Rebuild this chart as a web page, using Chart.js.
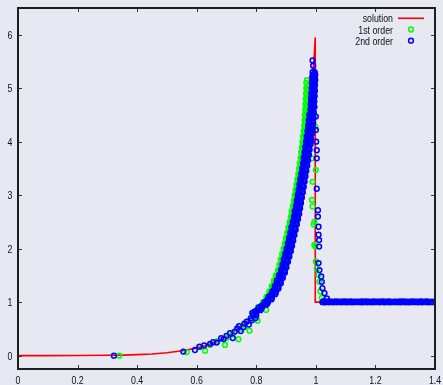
<!DOCTYPE html>
<html>
<head>
<meta charset="utf-8">
<script src="https://cdn.jsdelivr.net/npm/chart.js@4.4.1/dist/chart.umd.min.js"></script>
<style>
  html, body { margin: 0; padding: 0; background: #e8e8f2; }
  canvas { display: block; }
</style>
</head>
<body>
<canvas id="shockChart" width="443" height="385"></canvas>
<script>
// axis ticks
const xTicks = [0, 0.2, 0.4, 0.6, 0.8, 1, 1.2, 1.4];
const yTicks = [0, 1, 2, 3, 4, 5, 6];

// exact solution
const solutionX = [0, 0.1, 0.2, 0.3, 0.35, 0.4, 0.45, 0.5, 0.55, 0.6, 0.65, 0.7, 0.75, 0.8, 0.85, 0.88, 0.9, 0.92, 0.94, 0.96, 0.97, 0.98, 0.99, 0.995, 0.998, 0.998, 1.2, 1.4];
const solutionY = [0, 0.001, 0.002, 0.006, 0.01, 0.018, 0.03, 0.055, 0.09, 0.14, 0.22, 0.35, 0.55, 0.8, 1.18, 1.5, 1.8, 2.25, 2.85, 3.6, 4.1, 4.7, 5.3, 5.65, 5.95, 1.0, 1.0, 1.0];

// 1st order particles [x, y]
const firstLow = [
  [0.34, 0.0], [0.566, 0.065], [0.61, 0.16], [0.628, 0.09], [0.645, 0.2], [0.67, 0.27],
  [0.695, 0.2], [0.7, 0.33], [0.72, 0.4], [0.74, 0.306], [0.745, 0.5], [0.76, 0.56],
  [0.777, 0.467], [0.78, 0.68], [0.795, 0.77], [0.804, 0.654], [0.833, 0.854]
];
const firstBandA = [
  [0.786, 0.8], [0.806, 0.9], [0.823, 1.0], [0.834, 1.1], [0.844, 1.2], [0.852, 1.3], [0.859, 1.4],
  [0.866, 1.5], [0.873, 1.6], [0.878, 1.7], [0.882, 1.8], [0.887, 1.9], [0.892, 2.0], [0.896, 2.1],
  [0.9, 2.2], [0.904, 2.3], [0.908, 2.4], [0.912, 2.5], [0.916, 2.6], [0.919, 2.7], [0.923, 2.8],
  [0.926, 2.9], [0.929, 3.0], [0.932, 3.1], [0.935, 3.2], [0.938, 3.3], [0.941, 3.4], [0.944, 3.5],
  [0.946, 3.6], [0.949, 3.7], [0.951, 3.8], [0.953, 3.9], [0.955, 4.0], [0.957, 4.1], [0.959, 4.2],
  [0.961, 4.3], [0.962, 4.4], [0.963, 4.5], [0.964, 4.6], [0.965, 4.7], [0.966, 4.8], [0.967, 4.9],
  [0.968, 5.0], [0.968, 5.1], [0.97, 5.15]
];
const firstBandB = [
  [0.804, 0.85], [0.822, 0.95], [0.837, 1.05], [0.847, 1.15], [0.856, 1.25], [0.864, 1.35], [0.871, 1.45],
  [0.878, 1.55], [0.883, 1.65], [0.888, 1.75], [0.893, 1.85], [0.898, 1.95], [0.902, 2.05], [0.906, 2.15],
  [0.91, 2.25], [0.914, 2.35], [0.918, 2.45], [0.922, 2.55], [0.926, 2.65], [0.929, 2.75], [0.932, 2.85],
  [0.935, 2.95], [0.938, 3.05], [0.941, 3.15], [0.944, 3.25], [0.947, 3.35], [0.95, 3.45], [0.953, 3.55],
  [0.956, 3.65], [0.958, 3.75], [0.96, 3.85], [0.962, 3.95], [0.964, 4.05], [0.966, 4.15], [0.968, 4.25],
  [0.969, 4.35], [0.971, 4.45], [0.972, 4.55], [0.973, 4.65], [0.974, 4.75], [0.975, 4.85], [0.975, 4.95],
  [0.976, 5.05]
];
const firstBandC = [
  [0.805, 0.875], [0.822, 0.975], [0.835, 1.075], [0.845, 1.175], [0.854, 1.275], [0.861, 1.375], [0.868, 1.475],
  [0.875, 1.575], [0.88, 1.675], [0.885, 1.775], [0.89, 1.875], [0.895, 1.975], [0.899, 2.075], [0.903, 2.175],
  [0.907, 2.275], [0.911, 2.375], [0.915, 2.475], [0.919, 2.575], [0.922, 2.675], [0.926, 2.775], [0.929, 2.875],
  [0.932, 2.975], [0.935, 3.075], [0.938, 3.175], [0.941, 3.275], [0.944, 3.375], [0.947, 3.475], [0.949, 3.575],
  [0.952, 3.675], [0.954, 3.775], [0.956, 3.875], [0.958, 3.975], [0.96, 4.075], [0.962, 4.175], [0.964, 4.275],
  [0.965, 4.375], [0.967, 4.475], [0.968, 4.575], [0.969, 4.675], [0.97, 4.775], [0.97, 4.875], [0.971, 4.975]
];
const firstShock = [
  [0.987, 3.69], [0.998, 4.28], [1.0, 3.47], [0.989, 3.25], [0.987, 2.91], [0.989, 2.79],
  [0.995, 2.5], [0.993, 2.45], [0.995, 2.07], [0.998, 2.04], [1.0, 1.76], [1.003, 1.63],
  [1.009, 1.51], [1.012, 1.38], [1.015, 1.2], [1.02, 1.08], [1.025, 1.03]
];
const firstFlat = [
  [1.03, 1.0], [1.05, 1.01], [1.07, 1.0], [1.09, 1.01], [1.11, 1.0], [1.13, 1.01], [1.15, 1.0],
  [1.17, 1.01], [1.19, 1.0], [1.21, 1.01], [1.23, 1.0], [1.25, 1.01], [1.27, 1.0], [1.29, 1.01],
  [1.31, 1.0], [1.33, 1.01], [1.35, 1.0], [1.37, 1.01], [1.39, 1.0]
];

// 2nd order particles [x, y]
const secondLow = [
  [0.322, 0.0], [0.555, 0.075], [0.594, 0.105], [0.609, 0.168], [0.625, 0.19], [0.645, 0.22],
  [0.655, 0.25], [0.667, 0.245], [0.682, 0.325], [0.69, 0.31], [0.7, 0.37], [0.712, 0.42],
  [0.721, 0.33], [0.728, 0.45], [0.736, 0.51], [0.742, 0.55], [0.748, 0.46], [0.757, 0.53],
  [0.76, 0.6], [0.768, 0.635], [0.775, 0.58], [0.782, 0.7], [0.785, 0.66], [0.79, 0.76],
  [0.797, 0.7], [0.8, 0.75]
];
const secondBandA = [
  [0.787, 0.8], [0.808, 0.9], [0.828, 1.0], [0.841, 1.1], [0.854, 1.2], [0.862, 1.3], [0.869, 1.4],
  [0.876, 1.5], [0.883, 1.6], [0.888, 1.7], [0.892, 1.8], [0.897, 1.9], [0.902, 2.0], [0.906, 2.1],
  [0.91, 2.2], [0.914, 2.3], [0.918, 2.4], [0.922, 2.5], [0.926, 2.6], [0.929, 2.7], [0.933, 2.8],
  [0.936, 2.9], [0.939, 3.0], [0.942, 3.1], [0.945, 3.2], [0.948, 3.3], [0.951, 3.4], [0.954, 3.5],
  [0.957, 3.6], [0.959, 3.7], [0.962, 3.8], [0.964, 3.9], [0.967, 4.0], [0.969, 4.1], [0.972, 4.2],
  [0.974, 4.3], [0.976, 4.4], [0.978, 4.5], [0.982, 4.6], [0.983, 4.7], [0.984, 4.8], [0.985, 4.9],
  [0.986, 5.0], [0.987, 5.1], [0.988, 5.2], [0.989, 5.3]
];
const secondBandB = [
  [0.803, 0.85], [0.823, 0.95], [0.84, 1.05], [0.853, 1.15], [0.863, 1.25], [0.871, 1.35], [0.878, 1.45],
  [0.885, 1.55], [0.89, 1.65], [0.895, 1.75], [0.9, 1.85], [0.905, 1.95], [0.909, 2.05], [0.913, 2.15],
  [0.917, 2.25], [0.921, 2.35], [0.925, 2.45], [0.929, 2.55], [0.933, 2.65], [0.936, 2.75], [0.939, 2.85],
  [0.942, 2.95], [0.945, 3.05], [0.948, 3.15], [0.951, 3.25], [0.954, 3.35], [0.957, 3.45], [0.96, 3.55],
  [0.963, 3.65], [0.966, 3.75], [0.968, 3.85], [0.971, 3.95], [0.973, 4.05], [0.976, 4.15], [0.978, 4.25],
  [0.98, 4.35], [0.982, 4.45], [0.983, 4.55], [0.984, 4.65], [0.985, 4.75], [0.986, 4.85], [0.987, 4.95],
  [0.988, 5.05], [0.989, 5.15], [0.99, 5.25]
];
const secondBandC = [
  [0.798, 0.8], [0.819, 0.9], [0.839, 1.0], [0.852, 1.1], [0.865, 1.2], [0.873, 1.3], [0.88, 1.4],
  [0.887, 1.5], [0.894, 1.6], [0.899, 1.7], [0.903, 1.8], [0.908, 1.9], [0.913, 2.0], [0.917, 2.1],
  [0.921, 2.2], [0.925, 2.3], [0.929, 2.4], [0.933, 2.5], [0.937, 2.6], [0.94, 2.7], [0.944, 2.8],
  [0.947, 2.9], [0.95, 3.0], [0.953, 3.1], [0.956, 3.2], [0.959, 3.3], [0.962, 3.4], [0.965, 3.5],
  [0.968, 3.6], [0.97, 3.7], [0.973, 3.8], [0.975, 3.9], [0.978, 4.0], [0.98, 4.1], [0.983, 4.2],
  [0.985, 4.3], [0.987, 4.4], [0.988, 4.5], [0.99, 4.6], [0.991, 4.7], [0.992, 4.8], [0.993, 4.9],
  [0.994, 5.0], [0.995, 5.1], [0.996, 5.2], [0.996, 5.3]
];
const secondBandD = [
  [0.814, 0.85], [0.834, 0.95], [0.851, 1.05], [0.864, 1.15], [0.874, 1.25], [0.882, 1.35], [0.889, 1.45],
  [0.896, 1.55], [0.901, 1.65], [0.906, 1.75], [0.911, 1.85], [0.916, 1.95], [0.92, 2.05], [0.924, 2.15],
  [0.928, 2.25], [0.932, 2.35], [0.936, 2.45], [0.94, 2.55], [0.944, 2.65], [0.947, 2.75], [0.95, 2.85],
  [0.953, 2.95], [0.956, 3.05], [0.959, 3.15], [0.962, 3.25], [0.965, 3.35], [0.968, 3.45], [0.971, 3.55],
  [0.974, 3.65], [0.977, 3.75], [0.979, 3.85], [0.982, 3.95], [0.984, 4.05], [0.987, 4.15], [0.989, 4.25],
  [0.991, 4.35], [0.992, 4.45], [0.993, 4.55], [0.994, 4.65], [0.995, 4.75], [0.996, 4.85], [0.997, 4.95],
  [0.997, 5.05], [0.998, 5.15], [0.998, 5.25]
];
const secondBandE = [
  [0.795, 0.825], [0.816, 0.925], [0.834, 1.025], [0.847, 1.125], [0.859, 1.225], [0.867, 1.325], [0.874, 1.425],
  [0.881, 1.525], [0.887, 1.625], [0.892, 1.725], [0.896, 1.825], [0.901, 1.925], [0.906, 2.025], [0.91, 2.125],
  [0.914, 2.225], [0.918, 2.325], [0.922, 2.425], [0.926, 2.525], [0.93, 2.625], [0.933, 2.725], [0.936, 2.825],
  [0.939, 2.925], [0.942, 3.025], [0.945, 3.125], [0.948, 3.225], [0.951, 3.325], [0.954, 3.425], [0.957, 3.525],
  [0.96, 3.625], [0.963, 3.725], [0.965, 3.825], [0.968, 3.925], [0.97, 4.025], [0.973, 4.125], [0.975, 4.225],
  [0.977, 4.325], [0.979, 4.425], [0.982, 4.525], [0.983, 4.625], [0.984, 4.725], [0.985, 4.825], [0.986, 4.925],
  [0.987, 5.025], [0.988, 5.125], [0.989, 5.225]
];
const secondBandF = [
  [0.817, 0.875], [0.837, 0.975], [0.852, 1.075], [0.865, 1.175], [0.874, 1.275], [0.881, 1.375], [0.888, 1.475],
  [0.895, 1.575], [0.9, 1.675], [0.905, 1.775], [0.91, 1.875], [0.915, 1.975], [0.919, 2.075], [0.923, 2.175],
  [0.927, 2.275], [0.931, 2.375], [0.935, 2.475], [0.939, 2.575], [0.942, 2.675], [0.946, 2.775], [0.949, 2.875],
  [0.952, 2.975], [0.955, 3.075], [0.958, 3.175], [0.961, 3.275], [0.964, 3.375], [0.967, 3.475], [0.97, 3.575],
  [0.972, 3.675], [0.975, 3.775], [0.977, 3.875], [0.98, 3.975], [0.982, 4.075], [0.985, 4.175], [0.987, 4.275],
  [0.989, 4.375], [0.99, 4.475], [0.991, 4.575], [0.992, 4.675], [0.993, 4.775], [0.994, 4.875], [0.995, 4.975],
  [0.996, 5.075], [0.997, 5.175], [0.997, 5.275]
];
const secondShock = [
  [0.991, 5.42], [0.989, 5.52],
  [0.995, 4.65], [1.0, 4.47], [1.0, 4.22], [1.001, 4.0], [1.003, 3.84], [1.003, 3.69],
  [1.003, 3.12], [1.007, 2.72], [1.007, 2.6], [1.009, 2.41], [1.009, 2.26], [1.011, 2.16],
  [1.011, 2.04], [1.009, 1.73], [1.012, 1.6], [1.018, 1.48], [1.02, 1.38], [1.022, 1.26],
  [1.029, 1.17], [1.037, 1.07]
];
const flatX = [
  1.022, 1.026, 1.030, 1.034, 1.038, 1.042, 1.046, 1.050, 1.054, 1.058,
  1.062, 1.066, 1.070, 1.074, 1.078, 1.082, 1.086, 1.090, 1.094, 1.098,
  1.102, 1.106, 1.110, 1.114, 1.118, 1.122, 1.126, 1.130, 1.134, 1.138,
  1.142, 1.146, 1.150, 1.154, 1.158, 1.162, 1.166, 1.170, 1.174, 1.178,
  1.182, 1.186, 1.190, 1.194, 1.198, 1.202, 1.206, 1.210, 1.214, 1.218,
  1.222, 1.226, 1.230, 1.234, 1.238, 1.242, 1.246, 1.250, 1.254, 1.258,
  1.262, 1.266, 1.270, 1.274, 1.278, 1.282, 1.286, 1.290, 1.294, 1.298,
  1.302, 1.306, 1.310, 1.314, 1.318, 1.322, 1.326, 1.330, 1.334, 1.338,
  1.342, 1.346, 1.350, 1.354, 1.358, 1.362, 1.366, 1.370, 1.374, 1.378,
  1.382, 1.386, 1.390, 1.394, 1.398
];
const secondFlatY = [
  1.0, 1.012, 0.996, 1.008, 1.002, 1.014, 0.998, 1.006, 1.01, 0.997,
  1.004, 1.013, 0.999, 1.007, 1.001, 1.011, 0.996, 1.009, 1.003, 1.012,
  0.998, 1.005, 1.01, 1.0, 1.013, 0.997, 1.006, 1.002, 1.011, 0.999,
  1.008, 1.004, 1.0, 1.012, 0.996, 1.008, 1.002, 1.014, 0.998, 1.006,
  1.01, 0.997, 1.004, 1.013, 0.999, 1.007, 1.001, 1.011, 0.996, 1.009,
  1.003, 1.012, 0.998, 1.005, 1.01, 1.0, 1.013, 0.997, 1.006, 1.002,
  1.011, 0.999, 1.008, 1.004, 1.0, 1.012, 0.996, 1.008, 1.002, 1.014,
  0.998, 1.006, 1.01, 0.997, 1.004, 1.013, 0.999, 1.007, 1.001, 1.011,
  0.996, 1.009, 1.003, 1.012, 0.998, 1.005, 1.01, 1.0, 1.013, 0.997,
  1.006, 1.002, 1.011, 0.999, 1.008
];

const FONT = "'Liberation Sans', Arial, Helvetica, sans-serif";
const BG = '#e8e8f2';
const SQUEEZE = 0.8; // the reference text is narrow

const toPts = pairs => pairs.map(p => ({ x: p[0], y: p[1] }));

const solutionData = solutionX.map((x, i) => ({ x: x, y: solutionY[i] }));
const firstData = toPts(firstLow.concat(firstBandA, firstBandB, firstBandC, firstShock, firstFlat));
const secondData = toPts(secondLow.concat(secondBandA, secondBandB, secondBandC, secondBandD,
  secondBandE, secondBandF, secondShock))
  .concat(flatX.map((x, i) => ({ x: x, y: secondFlatY[i] })));

function narrowText(c, txt, x, y, align) {
  c.save();
  c.translate(x, y);
  c.scale(SQUEEZE, 1);
  c.textAlign = align;
  c.fillText(txt, 0, 0);
  c.restore();
}

// whole background in gnuplot lavender
const bgPlugin = {
  id: 'bg',
  beforeDraw(chart) {
    const c = chart.ctx;
    c.save();
    c.fillStyle = BG;
    c.fillRect(0, 0, chart.width, chart.height);
    c.restore();
  }
};

// border box, inward mirrored ticks, tick labels
const framePlugin = {
  id: 'frame',
  afterDraw(chart) {
    const c = chart.ctx;
    const a = chart.chartArea;
    const xs = chart.scales.x, ys = chart.scales.y;
    c.save();
    c.strokeStyle = '#333';
    c.lineWidth = 1;
    c.beginPath();
    xTicks.forEach(v => {
      const px = Math.round(xs.getPixelForValue(v)) + 0.5;
      c.moveTo(px, a.bottom); c.lineTo(px, a.bottom - 4);
      c.moveTo(px, a.top); c.lineTo(px, a.top + 4);
    });
    yTicks.forEach(v => {
      const py = Math.round(ys.getPixelForValue(v)) + 0.5;
      c.moveTo(a.left, py); c.lineTo(a.left + 4, py);
      c.moveTo(a.right, py); c.lineTo(a.right - 4, py);
    });
    c.stroke();
    c.strokeStyle = '#1e1e1e';
    c.lineWidth = 2;
    c.strokeRect(a.left, a.top, a.right - a.left, a.bottom - a.top);

    c.fillStyle = '#111';
    c.font = '11px ' + FONT;
    c.textBaseline = 'alphabetic';
    xTicks.forEach(v => {
      narrowText(c, String(v), xs.getPixelForValue(v), a.bottom + 15, 'center');
    });
    yTicks.forEach(v => {
      narrowText(c, String(v), a.left - 5.5, ys.getPixelForValue(v) + 4, 'right');
    });
    c.restore();
  }
};

// gnuplot style key: text right aligned, sample on the right
const keyPlugin = {
  id: 'key',
  afterDraw(chart) {
    const c = chart.ctx;
    c.save();
    c.font = '11px ' + FONT;
    c.textBaseline = 'alphabetic';
    chart.data.datasets.forEach((ds, i) => {
      const y = 18.3 + i * 11.2;
      c.fillStyle = '#111';
      narrowText(c, ds.label, 393, y + 4, 'right');
      c.strokeStyle = ds.borderColor;
      if (ds.showLine) {
        c.lineWidth = 1.6;
        c.beginPath();
        c.moveTo(398, y); c.lineTo(424, y);
        c.stroke();
      } else {
        c.lineWidth = ds.pointBorderWidth;
        c.beginPath();
        c.arc(411, y, ds.pointRadius, 0, Math.PI * 2);
        c.stroke();
      }
    });
    c.restore();
  }
};

new Chart(document.getElementById('shockChart').getContext('2d'), {
  type: 'scatter',
  data: {
    datasets: [
      {
        label: 'solution',
        type: 'line',
        data: solutionData,
        showLine: true,
        borderColor: '#ff0000',
        borderWidth: 1.6,
        pointRadius: 0,
        tension: 0,
        fill: false,
        order: 2
      },
      {
        label: '1st order',
        data: firstData,
        showLine: false,
        borderColor: '#00ff00',
        backgroundColor: 'transparent',
        pointRadius: 2.4,
        pointBorderWidth: 1.5,
        order: 1
      },
      {
        label: '2nd order',
        data: secondData,
        showLine: false,
        borderColor: '#0000ff',
        backgroundColor: 'transparent',
        pointRadius: 2.4,
        pointBorderWidth: 1.5,
        order: 0
      }
    ]
  },
  options: {
    responsive: false,
    animation: false,
    devicePixelRatio: 1,
    events: [],
    layout: { padding: { top: 8, right: 8, left: 0, bottom: 0 } },
    plugins: {
      legend: { display: false },
      tooltip: { enabled: false }
    },
    scales: {
      x: {
        type: 'linear',
        min: 0,
        max: 1.4,
        grid: { display: false, drawTicks: false },
        border: { display: false },
        afterBuildTicks: s => { s.ticks = xTicks.map(v => ({ value: v })); },
        afterFit: s => { s.height = 16; },
        ticks: { display: false }
      },
      y: {
        type: 'linear',
        min: -0.25,
        max: 6.5,
        grid: { display: false, drawTicks: false },
        border: { display: false },
        afterBuildTicks: s => { s.ticks = yTicks.map(v => ({ value: v })); },
        afterFit: s => { s.width = 18; },
        ticks: { display: false }
      }
    }
  },
  plugins: [bgPlugin, framePlugin, keyPlugin]
});
</script>
</body>
</html>
